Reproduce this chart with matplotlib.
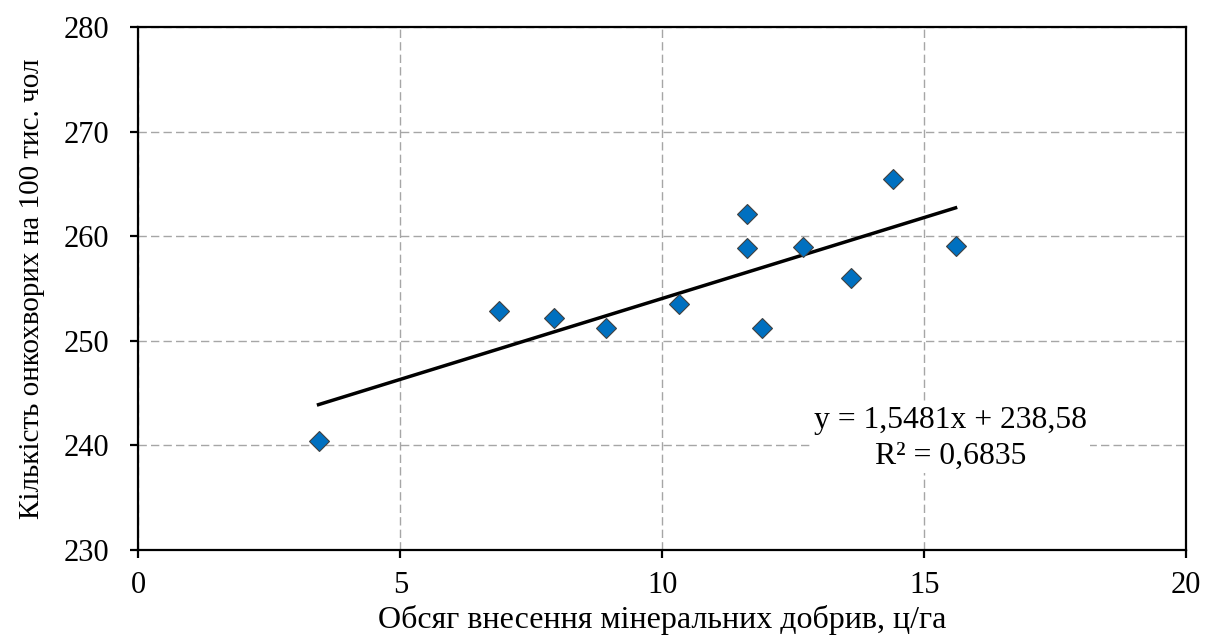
import numpy as np
import matplotlib.pyplot as plt

# Дані
dobryva = [3.44, 6.89, 7.94, 8.92, 10.32, 11.61, 11.61, 11.91, 12.68, 13.60, 14.40, 15.60]
onko = [240.4, 252.85, 252.2, 251.25, 253.5, 262.1, 258.9, 251.25, 259.0, 256.0, 265.5, 259.1]

# Лінія тренду з підпису на графіку
slope = 1.5481
intercept = 238.58
r2 = 0.6835

x_ticks = [0, 5, 10, 15, 20]
y_ticks = [230, 240, 250, 260, 270, 280]

plt.rcParams['font.family'] = ['Liberation Serif', 'DejaVu Serif']

fig = plt.figure(figsize=(12.05, 6.41), dpi=100)
ax = fig.add_axes([0.1148, 0.142, 0.8695, 0.8154])

ax.grid(True, color='#a6a6a6', linestyle=(0, (6, 3)), linewidth=1.0)
ax.set_axisbelow(True)

x_line = np.array([min(dobryva), max(dobryva)])
ax.plot(x_line, slope * x_line + intercept, color='black', linewidth=2.5, zorder=3)

ax.plot(dobryva, onko, linestyle='none', marker='D', markersize=10.5,
        markerfacecolor='#0070c0', markeredgecolor='#404040', markeredgewidth=0.8, zorder=4)

ax.set_xlim(0, 20)
ax.set_ylim(230, 280)
ax.set_xticks(x_ticks)
ax.set_yticks(y_ticks)

for s in ax.spines.values():
    s.set_linewidth(1.6)
    s.set_color('black')
ax.tick_params(axis='both', direction='out', length=6, width=1.6,
               labelsize=22, colors='black')
ax.tick_params(axis='x', pad=9)
ax.tick_params(axis='y', pad=15)

ax.set_xlabel('Обсяг внесення мінеральних добрив, ц/га', fontsize=23)
ax.set_ylabel('Кількість онкохворих на 100 тис. чол', fontsize=21)
ax.xaxis.set_label_coords(0.5, -0.106)
ax.yaxis.set_label_coords(-0.0887, 0.5)

eq = 'y = {}x + {}\nR² = {}'.format(
    f'{slope:.4f}'.replace('.', ','),
    f'{intercept:.2f}'.replace('.', ','),
    f'{r2:.4f}'.replace('.', ','))
ax.text(15.5, 240.7, eq, ha='center', va='center', fontsize=22.8,
        linespacing=1.3, zorder=5,
        bbox=dict(facecolor='white', edgecolor='none', pad=2))

fig.savefig('out.png', dpi=100)
